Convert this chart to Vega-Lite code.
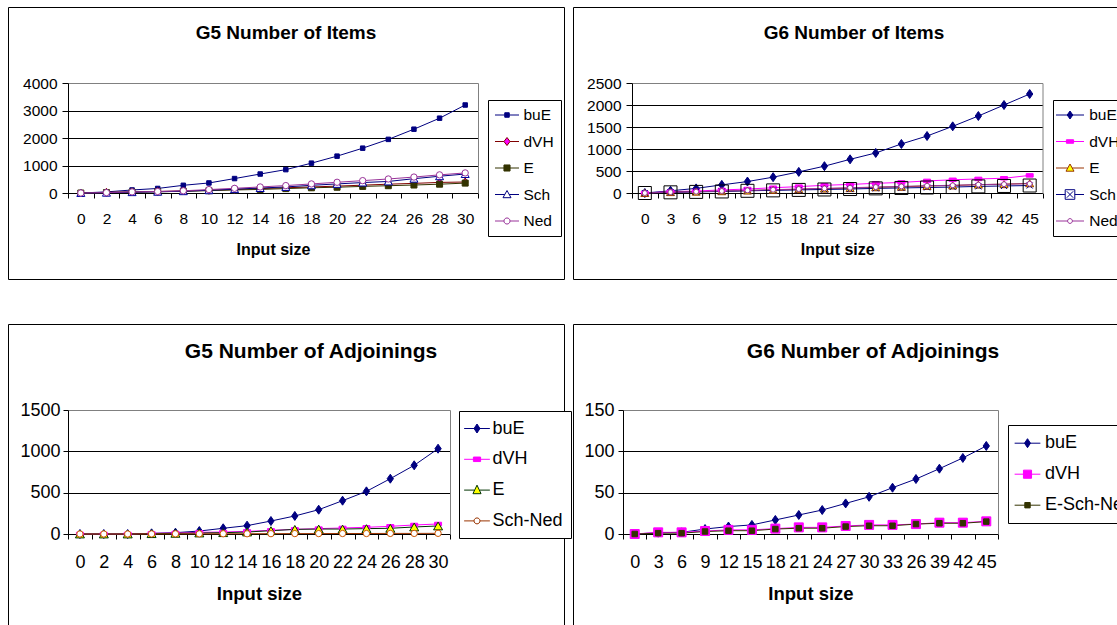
{
"$schema": "https://vega.github.io/schema/vega-lite/v6.json",
"background": "white",
"padding": {"left": 7, "top": 6, "right": 0, "bottom": 0},
"datasets": {
"tl": [
{"x":"0","s":"buE","v":0},{"x":"2","s":"buE","v":40},{"x":"4","s":"buE","v":110},{"x":"6","s":"buE","v":165},{"x":"8","s":"buE","v":280},{"x":"10","s":"buE","v":365},{"x":"12","s":"buE","v":525},{"x":"14","s":"buE","v":690},{"x":"16","s":"buE","v":850},{"x":"18","s":"buE","v":1085},{"x":"20","s":"buE","v":1340},{"x":"22","s":"buE","v":1630},{"x":"24","s":"buE","v":1950},{"x":"26","s":"buE","v":2320},{"x":"28","s":"buE","v":2720},{"x":"30","s":"buE","v":3200},
{"x":"0","s":"dVH","v":0},{"x":"2","s":"dVH","v":25},{"x":"4","s":"dVH","v":40},{"x":"6","s":"dVH","v":55},{"x":"8","s":"dVH","v":75},{"x":"10","s":"dVH","v":100},{"x":"12","s":"dVH","v":130},{"x":"14","s":"dVH","v":160},{"x":"16","s":"dVH","v":190},{"x":"18","s":"dVH","v":220},{"x":"20","s":"dVH","v":250},{"x":"22","s":"dVH","v":285},{"x":"24","s":"dVH","v":320},{"x":"26","s":"dVH","v":350},{"x":"28","s":"dVH","v":385},{"x":"30","s":"dVH","v":400},
{"x":"0","s":"E","v":0},{"x":"2","s":"E","v":15},{"x":"4","s":"E","v":30},{"x":"6","s":"E","v":45},{"x":"8","s":"E","v":60},{"x":"10","s":"E","v":85},{"x":"12","s":"E","v":110},{"x":"14","s":"E","v":130},{"x":"16","s":"E","v":160},{"x":"18","s":"E","v":190},{"x":"20","s":"E","v":210},{"x":"22","s":"E","v":240},{"x":"24","s":"E","v":265},{"x":"26","s":"E","v":290},{"x":"28","s":"E","v":320},{"x":"30","s":"E","v":360},
{"x":"0","s":"Sch","v":0},{"x":"2","s":"Sch","v":10},{"x":"4","s":"Sch","v":30},{"x":"6","s":"Sch","v":45},{"x":"8","s":"Sch","v":65},{"x":"10","s":"Sch","v":100},{"x":"12","s":"Sch","v":140},{"x":"14","s":"Sch","v":180},{"x":"16","s":"Sch","v":220},{"x":"18","s":"Sch","v":280},{"x":"20","s":"Sch","v":330},{"x":"22","s":"Sch","v":380},{"x":"24","s":"Sch","v":420},{"x":"26","s":"Sch","v":520},{"x":"28","s":"Sch","v":610},{"x":"30","s":"Sch","v":690},
{"x":"0","s":"Ned","v":0},{"x":"2","s":"Ned","v":15},{"x":"4","s":"Ned","v":40},{"x":"6","s":"Ned","v":55},{"x":"8","s":"Ned","v":80},{"x":"10","s":"Ned","v":125},{"x":"12","s":"Ned","v":170},{"x":"14","s":"Ned","v":220},{"x":"16","s":"Ned","v":270},{"x":"18","s":"Ned","v":330},{"x":"20","s":"Ned","v":390},{"x":"22","s":"Ned","v":450},{"x":"24","s":"Ned","v":510},{"x":"26","s":"Ned","v":580},{"x":"28","s":"Ned","v":660},{"x":"30","s":"Ned","v":730}
],
"tr": [
{"x":"0","s":"buE","v":0},{"x":"3","s":"buE","v":50},{"x":"6","s":"buE","v":105},{"x":"9","s":"buE","v":185},{"x":"12","s":"buE","v":260},{"x":"15","s":"buE","v":360},{"x":"18","s":"buE","v":480},{"x":"21","s":"buE","v":610},{"x":"24","s":"buE","v":765},{"x":"27","s":"buE","v":910},{"x":"30","s":"buE","v":1115},{"x":"33","s":"buE","v":1295},{"x":"26","s":"buE","v":1515},{"x":"39","s":"buE","v":1750},{"x":"42","s":"buE","v":2000},{"x":"45","s":"buE","v":2250},
{"x":"0","s":"dVH","v":0},{"x":"3","s":"dVH","v":30},{"x":"6","s":"dVH","v":45},{"x":"9","s":"dVH","v":70},{"x":"12","s":"dVH","v":90},{"x":"15","s":"dVH","v":120},{"x":"18","s":"dVH","v":145},{"x":"21","s":"dVH","v":175},{"x":"24","s":"dVH","v":195},{"x":"27","s":"dVH","v":220},{"x":"30","s":"dVH","v":240},{"x":"33","s":"dVH","v":275},{"x":"26","s":"dVH","v":300},{"x":"39","s":"dVH","v":320},{"x":"42","s":"dVH","v":335},{"x":"45","s":"dVH","v":400},
{"x":"0","s":"E","v":0},{"x":"3","s":"E","v":20},{"x":"6","s":"E","v":30},{"x":"9","s":"E","v":40},{"x":"12","s":"E","v":55},{"x":"15","s":"E","v":70},{"x":"18","s":"E","v":85},{"x":"21","s":"E","v":100},{"x":"24","s":"E","v":110},{"x":"27","s":"E","v":130},{"x":"30","s":"E","v":140},{"x":"33","s":"E","v":160},{"x":"26","s":"E","v":170},{"x":"39","s":"E","v":190},{"x":"42","s":"E","v":200},{"x":"45","s":"E","v":220},
{"x":"0","s":"Sch","v":0},{"x":"3","s":"Sch","v":15},{"x":"6","s":"Sch","v":25},{"x":"9","s":"Sch","v":35},{"x":"12","s":"Sch","v":50},{"x":"15","s":"Sch","v":60},{"x":"18","s":"Sch","v":70},{"x":"21","s":"Sch","v":80},{"x":"24","s":"Sch","v":90},{"x":"27","s":"Sch","v":105},{"x":"30","s":"Sch","v":115},{"x":"33","s":"Sch","v":125},{"x":"26","s":"Sch","v":135},{"x":"39","s":"Sch","v":150},{"x":"42","s":"Sch","v":160},{"x":"45","s":"Sch","v":170},
{"x":"0","s":"Ned","v":0},{"x":"3","s":"Ned","v":20},{"x":"6","s":"Ned","v":30},{"x":"9","s":"Ned","v":45},{"x":"12","s":"Ned","v":60},{"x":"15","s":"Ned","v":75},{"x":"18","s":"Ned","v":90},{"x":"21","s":"Ned","v":105},{"x":"24","s":"Ned","v":120},{"x":"27","s":"Ned","v":135},{"x":"30","s":"Ned","v":150},{"x":"33","s":"Ned","v":165},{"x":"26","s":"Ned","v":175},{"x":"39","s":"Ned","v":190},{"x":"42","s":"Ned","v":200},{"x":"45","s":"Ned","v":210}
],
"bl": [
{"x":"0","s":"buE","v":0},{"x":"2","s":"buE","v":0},{"x":"4","s":"buE","v":0},{"x":"6","s":"buE","v":8},{"x":"8","s":"buE","v":16},{"x":"10","s":"buE","v":36},{"x":"12","s":"buE","v":69},{"x":"14","s":"buE","v":101},{"x":"16","s":"buE","v":157},{"x":"18","s":"buE","v":218},{"x":"20","s":"buE","v":294},{"x":"22","s":"buE","v":403},{"x":"24","s":"buE","v":516},{"x":"26","s":"buE","v":669},{"x":"28","s":"buE","v":831},{"x":"30","s":"buE","v":1032},
{"x":"0","s":"dVH","v":0},{"x":"2","s":"dVH","v":0},{"x":"4","s":"dVH","v":0},{"x":"6","s":"dVH","v":8},{"x":"8","s":"dVH","v":12},{"x":"10","s":"dVH","v":20},{"x":"12","s":"dVH","v":24},{"x":"14","s":"dVH","v":32},{"x":"16","s":"dVH","v":44},{"x":"18","s":"dVH","v":56},{"x":"20","s":"dVH","v":65},{"x":"22","s":"dVH","v":73},{"x":"24","s":"dVH","v":81},{"x":"26","s":"dVH","v":93},{"x":"28","s":"dVH","v":109},{"x":"30","s":"dVH","v":121},
{"x":"0","s":"E","v":0},{"x":"2","s":"E","v":0},{"x":"4","s":"E","v":0},{"x":"6","s":"E","v":4},{"x":"8","s":"E","v":8},{"x":"10","s":"E","v":12},{"x":"12","s":"E","v":16},{"x":"14","s":"E","v":24},{"x":"16","s":"E","v":40},{"x":"18","s":"E","v":56},{"x":"20","s":"E","v":60},{"x":"22","s":"E","v":60},{"x":"24","s":"E","v":65},{"x":"26","s":"E","v":69},{"x":"28","s":"E","v":85},{"x":"30","s":"E","v":97},
{"x":"0","s":"Sch-Ned","v":0},{"x":"2","s":"Sch-Ned","v":0},{"x":"4","s":"Sch-Ned","v":0},{"x":"6","s":"Sch-Ned","v":1},{"x":"8","s":"Sch-Ned","v":2},{"x":"10","s":"Sch-Ned","v":2},{"x":"12","s":"Sch-Ned","v":3},{"x":"14","s":"Sch-Ned","v":3},{"x":"16","s":"Sch-Ned","v":4},{"x":"18","s":"Sch-Ned","v":5},{"x":"20","s":"Sch-Ned","v":5},{"x":"22","s":"Sch-Ned","v":6},{"x":"24","s":"Sch-Ned","v":6},{"x":"26","s":"Sch-Ned","v":7},{"x":"28","s":"Sch-Ned","v":7},{"x":"30","s":"Sch-Ned","v":8}
],
"br": [
{"x":"0","s":"buE","v":0},{"x":"3","s":"buE","v":1.6},{"x":"6","s":"buE","v":2},{"x":"9","s":"buE","v":6},{"x":"12","s":"buE","v":9},{"x":"15","s":"buE","v":11},{"x":"18","s":"buE","v":17},{"x":"21","s":"buE","v":23},{"x":"24","s":"buE","v":29},{"x":"27","s":"buE","v":37},{"x":"30","s":"buE","v":45},{"x":"33","s":"buE","v":56},{"x":"26","s":"buE","v":66.5},{"x":"39","s":"buE","v":79},{"x":"42","s":"buE","v":92},{"x":"45","s":"buE","v":106.5},
{"x":"0","s":"dVH","v":0},{"x":"3","s":"dVH","v":2},{"x":"6","s":"dVH","v":2},{"x":"9","s":"dVH","v":3.6},{"x":"12","s":"dVH","v":5},{"x":"15","s":"dVH","v":5},{"x":"18","s":"dVH","v":6.5},{"x":"21","s":"dVH","v":8},{"x":"24","s":"dVH","v":8},{"x":"27","s":"dVH","v":9.7},{"x":"30","s":"dVH","v":11},{"x":"33","s":"dVH","v":11},{"x":"26","s":"dVH","v":12},{"x":"39","s":"dVH","v":13.7},{"x":"42","s":"dVH","v":13.7},{"x":"45","s":"dVH","v":15.3},
{"x":"0","s":"E-Sch-Ned","v":0},{"x":"3","s":"E-Sch-Ned","v":1},{"x":"6","s":"E-Sch-Ned","v":1},{"x":"9","s":"E-Sch-Ned","v":3},{"x":"12","s":"E-Sch-Ned","v":4},{"x":"15","s":"E-Sch-Ned","v":4},{"x":"18","s":"E-Sch-Ned","v":6},{"x":"21","s":"E-Sch-Ned","v":7},{"x":"24","s":"E-Sch-Ned","v":7},{"x":"27","s":"E-Sch-Ned","v":9},{"x":"30","s":"E-Sch-Ned","v":10},{"x":"33","s":"E-Sch-Ned","v":10},{"x":"26","s":"E-Sch-Ned","v":12},{"x":"39","s":"E-Sch-Ned","v":13},{"x":"42","s":"E-Sch-Ned","v":13},{"x":"45","s":"E-Sch-Ned","v":15}
]
},
"columns": 2,
"spacing": {"row": 45, "column": 9},
"bounds": "flush",
"concat": [
{
"width": 556, "height": 272,
"data": {"name": "tl"},
"title": {"text": "G5 Number of Items", "fontSize": 19, "fontWeight": "bold", "anchor": "middle", "frame": "group", "baseline": "middle", "offset": -45},
"encoding": {
"x": {"field": "x", "type": "ordinal", "scale": {"domain": ["0","2","4","6","8","10","12","14","16","18","20","22","24","26","28","30"], "range": [60, 470], "paddingInner": 0, "paddingOuter": 0},
"axis": {"title": "Input size", "titleFontSize": 16, "titleFontWeight": "bold", "titlePadding": 15, "labelAngle": 0, "labelFontSize": 15.5, "labelPadding": 13, "labelOverlap": false, "tickBand": "extent", "tickSize": 5, "grid": false, "offset": -86}},
"y": {"field": "v", "type": "quantitative", "scale": {"domain": [0, 4000], "range": [186, 76], "nice": false, "zero": false},
"axis": {"values": [0,1000,2000,3000,4000], "format": "d", "title": null, "grid": true, "gridColor": {"condition": {"test": "datum.value === 4000", "value": "#808080"}, "value": "black"}, "tickSize": 6, "labelPadding": 5, "labelFontSize": 15.5, "offset": -60}}
},
"layer": [
{"mark": {"type": "line", "strokeWidth": 1},
"encoding": {"stroke": {"field": "s", "type": "nominal", "scale": {"domain": ["buE","dVH","E","Sch","Ned"], "range": ["#000080","#800000","#333300","#000080","#993399"]}}}},
{"mark": {"type": "point", "filled": true, "size": 0, "strokeWidth": 1, "opacity": 1},
"encoding": {
"y": {"field": "v", "type": "quantitative", "axis": {"orient": "right", "labels": false, "ticks": false, "grid": false, "domainColor": "#808080", "title": null, "offset": -86}},
"stroke": {"field": "s", "type": "nominal"},
"fill": {"field": "s", "type": "nominal", "scale": {"domain": ["buE","dVH","E","Sch","Ned"], "range": ["#000080","#FF00FF","#333300","white","white"]}},
"shape": {"field": "s", "type": "nominal", "scale": {"domain": ["buE","dVH","E","Sch","Ned"], "range": ["M-1.5,0H1.5M-0.28,-0.28H0.28V0.28H-0.28Z","M-1.5,0H-0.38M0.38,0H1.5M0,-0.5L0.38,0L0,0.5L-0.38,0Z","M-1.5,0H1.5M-0.38,-0.38H0.38V0.38H-0.38Z","M-1.5,0H-0.28M0.28,0H1.5M0,-0.5L0.5,0.4H-0.5Z","M-1.5,0H-0.38M0.38,0H1.5M-0.38,0A0.38,0.38,0,1,1,0.38,0A0.38,0.38,0,1,1,-0.38,0Z"]},
"legend": {"title": null, "orient": "none", "legendX": 480, "legendY": 93, "padding": 6.5, "rowPadding": 9.5, "strokeColor": "black", "fillColor": "white", "symbolSize": 256, "symbolStrokeWidth": 1, "symbolOpacity": 1, "labelFontSize": 15.5, "labelOffset": 8, "symbolOffset": 4}}
}},
{"transform": [{"filter": "datum.s === 'buE'"}], "mark": {"type": "point", "shape": "square", "size": 20, "filled": true, "fill": "#000080", "stroke": "#000080", "strokeWidth": 1, "opacity": 1}, "encoding": {"y": {"field": "v", "type": "quantitative", "axis": null}}},
{"transform": [{"filter": "datum.s === 'dVH'"}], "mark": {"type": "point", "shape": "M0,-1L0.7,0L0,1L-0.7,0Z", "size": 64, "filled": true, "fill": "#FF00FF", "stroke": "#800000", "strokeWidth": 1, "opacity": 1}, "encoding": {"y": {"field": "v", "type": "quantitative", "axis": null}}},
{"transform": [{"filter": "datum.s === 'E'"}], "mark": {"type": "point", "shape": "square", "size": 36, "filled": true, "fill": "#333300", "stroke": "#333300", "strokeWidth": 1, "opacity": 1}, "encoding": {"y": {"field": "v", "type": "quantitative", "axis": null}}},
{"transform": [{"filter": "datum.s === 'Sch'"}], "mark": {"type": "point", "shape": "triangle-up", "size": 64, "filled": true, "fill": "white", "stroke": "#0000A0", "strokeWidth": 1, "opacity": 1}, "encoding": {"y": {"field": "v", "type": "quantitative", "axis": null}}},
{"transform": [{"filter": "datum.s === 'Ned'"}], "mark": {"type": "point", "shape": "circle", "size": 40, "filled": true, "fill": "white", "stroke": "#993399", "strokeWidth": 1, "opacity": 1}, "encoding": {"y": {"field": "v", "type": "quantitative", "axis": null}}}
],
"resolve": {"axis": {"y": "independent"}}
},
{
"width": 562, "height": 272,
"data": {"name": "tr"},
"title": {"text": "G6 Number of Items", "fontSize": 19, "fontWeight": "bold", "anchor": "middle", "frame": "group", "baseline": "middle", "offset": -45},
"encoding": {
"x": {"field": "x", "type": "ordinal", "scale": {"domain": ["0","3","6","9","12","15","18","21","24","27","30","33","26","39","42","45"], "range": [59, 469.5], "paddingInner": 0, "paddingOuter": 0},
"axis": {"title": "Input size", "titleFontSize": 16, "titleFontWeight": "bold", "titlePadding": 15, "labelAngle": 0, "labelFontSize": 15.5, "labelPadding": 13, "labelOverlap": false, "tickBand": "extent", "tickSize": 5, "grid": false, "offset": -86}},
"y": {"field": "v", "type": "quantitative", "scale": {"domain": [0, 2500], "range": [186, 76], "nice": false, "zero": false},
"axis": {"values": [0,500,1000,1500,2000,2500], "format": "d", "title": null, "grid": true, "gridColor": {"condition": {"test": "datum.value === 2500", "value": "#808080"}, "value": "black"}, "tickSize": 6, "labelPadding": 5, "labelFontSize": 15.5, "offset": -59}}
},
"layer": [
{"mark": {"type": "line", "strokeWidth": 1},
"encoding": {"stroke": {"field": "s", "type": "nominal", "scale": {"domain": ["buE","dVH","E","Sch","Ned"], "range": ["#000080","#FF00FF","#993300","#000080","#993399"]}}}},
{"mark": {"type": "point", "filled": true, "size": 0, "strokeWidth": 1, "opacity": 1},
"encoding": {
"y": {"field": "v", "type": "quantitative", "axis": {"orient": "right", "labels": false, "ticks": false, "grid": false, "domainColor": "#808080", "title": null, "offset": -92.5}},
"stroke": {"field": "s", "type": "nominal"},
"fill": {"field": "s", "type": "nominal", "scale": {"domain": ["buE","dVH","E","Sch","Ned"], "range": ["#000080","#FF00FF","#FFFF00","white","white"]}},
"shape": {"field": "s", "type": "nominal", "scale": {"domain": ["buE","dVH","E","Sch","Ned"], "range": ["M-1.75,0H1.75M0,-0.5L0.35,0L0,0.5L-0.35,0Z","M-1.75,0H1.75M-0.45,-0.22H0.45V0.22H-0.45Z","M-1.75,0H-0.28M0.28,0H1.75M0,-0.5L0.5,0.4H-0.5Z","M-1.75,0H-0.6M0.6,0H1.75M-0.6,-0.6H0.6V0.6H-0.6ZM-0.4,-0.4L0.4,0.4M0.4,-0.4L-0.4,0.4","M-1.75,0H-0.3M0.3,0H1.75M-0.3,0A0.3,0.3,0,1,1,0.3,0A0.3,0.3,0,1,1,-0.3,0Z"]},
"legend": {"title": null, "orient": "none", "legendX": 480, "legendY": 93, "padding": 6.5, "rowPadding": 9.5, "strokeColor": "black", "fillColor": "white", "symbolSize": 256, "symbolStrokeWidth": 1, "symbolOpacity": 1, "labelFontSize": 15.5, "labelOffset": 10.7, "symbolOffset": 2}}
}},
{"transform": [{"filter": "datum.s === 'buE'"}], "mark": {"type": "point", "shape": "M0,-1L0.7,0L0,1L-0.7,0Z", "size": 81, "filled": true, "fill": "#000080", "stroke": "#000080", "strokeWidth": 1, "opacity": 1}, "encoding": {"y": {"field": "v", "type": "quantitative", "axis": null}}},
{"transform": [{"filter": "datum.s === 'dVH'"}], "mark": {"type": "point", "shape": "M-1,-0.5H1V0.5H-1Z", "size": 49, "filled": true, "fill": "#FF00FF", "stroke": "#FF00FF", "strokeWidth": 1, "opacity": 1}, "encoding": {"y": {"field": "v", "type": "quantitative", "axis": null}}},
{"transform": [{"filter": "datum.s === 'E'"}], "mark": {"type": "point", "shape": "triangle-up", "size": 64, "filled": true, "fill": "#FFFF00", "stroke": "#993300", "strokeWidth": 1, "opacity": 1}, "encoding": {"y": {"field": "v", "type": "quantitative", "axis": null}}},
{"transform": [{"filter": "datum.s === 'Sch'"}], "mark": {"type": "point", "shape": "square", "size": 169, "filled": false, "stroke": "black", "strokeWidth": 1, "opacity": 1}, "encoding": {"y": {"field": "v", "type": "quantitative", "axis": null}}},
{"transform": [{"filter": "datum.s === 'Sch'"}], "mark": {"type": "point", "shape": "M-1,-1L1,1M1,-1L-1,1", "size": 36, "filled": false, "stroke": "#000080", "strokeWidth": 1, "opacity": 1}, "encoding": {"y": {"field": "v", "type": "quantitative", "axis": null}}},
{"transform": [{"filter": "datum.s === 'Ned'"}], "mark": {"type": "point", "shape": "circle", "size": 25, "filled": true, "fill": "white", "stroke": "#993399", "strokeWidth": 1, "opacity": 1}, "encoding": {"y": {"field": "v", "type": "quantitative", "axis": null}}}
],
"resolve": {"axis": {"y": "independent"}}
},
{
"width": 556, "height": 310,
"data": {"name": "bl"},
"title": {"text": "G5 Number of Adjoinings", "fontSize": 21, "fontWeight": "bold", "anchor": "middle", "frame": "group", "baseline": "middle", "offset": -49, "dx": 25},
"encoding": {
"x": {"field": "x", "type": "ordinal", "scale": {"domain": ["0","2","4","6","8","10","12","14","16","18","20","22","24","26","28","30"], "range": [60, 442], "paddingInner": 0, "paddingOuter": 0},
"axis": {"title": "Input size", "titleFontSize": 18.5, "titleFontWeight": "bold", "titlePadding": 13, "labelAngle": 0, "labelFontSize": 18, "labelPadding": 14, "labelOverlap": false, "tickBand": "extent", "tickSize": 5, "grid": false, "offset": -100}},
"y": {"field": "v", "type": "quantitative", "scale": {"domain": [0, 1500], "range": [210, 86], "nice": false, "zero": false},
"axis": {"values": [0,500,1000,1500], "format": "d", "title": null, "grid": true, "gridColor": {"condition": {"test": "datum.value === 1500", "value": "#808080"}, "value": "black"}, "tickSize": 5, "labelPadding": 3, "labelFontSize": 18, "offset": -60}}
},
"layer": [
{"mark": {"type": "line", "strokeWidth": 1},
"encoding": {"stroke": {"field": "s", "type": "nominal", "scale": {"domain": ["buE","dVH","E","Sch-Ned"], "range": ["#000080","#FF00FF","#003300","#993300"]}}}},
{"mark": {"type": "point", "filled": true, "size": 0, "strokeWidth": 1, "opacity": 1},
"encoding": {
"y": {"field": "v", "type": "quantitative", "axis": {"orient": "right", "labels": false, "ticks": false, "grid": false, "domainColor": "#808080", "title": null, "offset": -114}},
"stroke": {"field": "s", "type": "nominal"},
"fill": {"field": "s", "type": "nominal", "scale": {"domain": ["buE","dVH","E","Sch-Ned"], "range": ["#000080","#FF00FF","#FFFF00","white"]}},
"shape": {"field": "s", "type": "nominal", "scale": {"domain": ["buE","dVH","E","Sch-Ned"], "range": ["M-1.43,0H1.43M0,-0.5L0.33,0L0,0.5L-0.33,0Z","M-1.43,0H1.43M-0.4,-0.25H0.4V0.25H-0.4Z","M-1.43,0H-0.3M0.3,0H1.43M0,-0.55L0.45,0.4H-0.45Z","M-1.43,0H-0.33M0.33,0H1.43M-0.33,0A0.33,0.33,0,1,1,0.33,0A0.33,0.33,0,1,1,-0.33,0Z"]},
"legend": {"title": null, "orient": "none", "legendX": 451, "legendY": 87, "padding": 8, "rowPadding": 11.8, "strokeColor": "black", "fillColor": "white", "symbolSize": 324, "symbolStrokeWidth": 1, "symbolOpacity": 1, "labelFontSize": 18, "labelOffset": 6, "symbolOffset": 0.5, "labelLimit": 200}}
}},
{"transform": [{"filter": "datum.s === 'buE'"}], "mark": {"type": "point", "shape": "M0,-1L0.7,0L0,1L-0.7,0Z", "size": 81, "filled": true, "fill": "#000080", "stroke": "#000080", "strokeWidth": 1, "opacity": 1}, "encoding": {"y": {"field": "v", "type": "quantitative", "axis": null}}},
{"transform": [{"filter": "datum.s === 'dVH'"}], "mark": {"type": "point", "shape": "M-1,-0.5H1V0.5H-1Z", "size": 49, "filled": true, "fill": "#FF00FF", "stroke": "#FF00FF", "strokeWidth": 1, "opacity": 1}, "encoding": {"y": {"field": "v", "type": "quantitative", "axis": null}}},
{"transform": [{"filter": "datum.s === 'E'"}], "mark": {"type": "point", "shape": "triangle-up", "size": 81, "filled": true, "fill": "#FFFF00", "stroke": "#003300", "strokeWidth": 1, "opacity": 1}, "encoding": {"y": {"field": "v", "type": "quantitative", "axis": null}}},
{"transform": [{"filter": "datum.s === 'Sch-Ned'"}], "mark": {"type": "point", "shape": "circle", "size": 40, "filled": true, "fill": "white", "stroke": "#CC5500", "strokeWidth": 1, "opacity": 1}, "encoding": {"y": {"field": "v", "type": "quantitative", "axis": null}}}
],
"resolve": {"axis": {"y": "independent"}}
},
{
"width": 600, "height": 310,
"data": {"name": "br"},
"title": {"text": "G6 Number of Adjoinings", "fontSize": 21, "fontWeight": "bold", "anchor": "middle", "frame": "group", "baseline": "middle", "offset": -49},
"encoding": {
"x": {"field": "x", "type": "ordinal", "scale": {"domain": ["0","3","6","9","12","15","18","21","24","27","30","33","26","39","42","45"], "range": [50, 425], "paddingInner": 0, "paddingOuter": 0},
"axis": {"title": "Input size", "titleFontSize": 18.5, "titleFontWeight": "bold", "titlePadding": 13, "labelAngle": 0, "labelFontSize": 18, "labelPadding": 14, "labelOverlap": false, "tickBand": "extent", "tickSize": 5, "grid": false, "offset": -100}},
"y": {"field": "v", "type": "quantitative", "scale": {"domain": [0, 150], "range": [210, 86], "nice": false, "zero": false},
"axis": {"values": [0,50,100,150], "format": "d", "title": null, "grid": true, "gridColor": {"condition": {"test": "datum.value === 150", "value": "#808080"}, "value": "black"}, "tickSize": 5, "labelPadding": 4, "labelFontSize": 18, "offset": -50}}
},
"layer": [
{"mark": {"type": "line", "strokeWidth": 1},
"encoding": {"stroke": {"field": "s", "type": "nominal", "scale": {"domain": ["buE","dVH","E-Sch-Ned"], "range": ["#000080","#FF00FF","#333300"]}}}},
{"mark": {"type": "point", "filled": true, "size": 0, "strokeWidth": 1, "opacity": 1},
"encoding": {
"y": {"field": "v", "type": "quantitative", "axis": {"orient": "right", "labels": false, "ticks": false, "grid": false, "domainColor": "#808080", "title": null, "offset": -175}},
"stroke": {"field": "s", "type": "nominal"},
"fill": {"field": "s", "type": "nominal", "scale": {"domain": ["buE","dVH","E-Sch-Ned"], "range": ["#000080","#FF00FF","#333300"]}},
"shape": {"field": "s", "type": "nominal", "scale": {"domain": ["buE","dVH","E-Sch-Ned"], "range": ["M-1.43,0H1.43M0,-0.5L0.33,0L0,0.5L-0.33,0Z","M-1.43,0H1.43M-0.45,-0.45H0.45V0.45H-0.45Z","M-1.43,0H1.43M-0.3,-0.3H0.3V0.3H-0.3Z"]},
"legend": {"title": null, "orient": "none", "legendX": 435, "legendY": 101, "padding": 8.7, "rowPadding": 12, "strokeColor": "black", "fillColor": "white", "symbolSize": 324, "symbolStrokeWidth": 1, "symbolOpacity": 1, "labelFontSize": 18, "labelOffset": 8, "symbolOffset": 1.3}}
}},
{"transform": [{"filter": "datum.s === 'buE'"}], "mark": {"type": "point", "shape": "M0,-1L0.7,0L0,1L-0.7,0Z", "size": 81, "filled": true, "fill": "#000080", "stroke": "#000080", "strokeWidth": 1, "opacity": 1}, "encoding": {"y": {"field": "v", "type": "quantitative", "axis": null}}},
{"transform": [{"filter": "datum.s === 'dVH'"}], "mark": {"type": "point", "shape": "square", "size": 81, "filled": true, "fill": "#FF00FF", "stroke": "#FF00FF", "strokeWidth": 1, "opacity": 1}, "encoding": {"y": {"field": "v", "type": "quantitative", "axis": null}}},
{"transform": [{"filter": "datum.s === 'E-Sch-Ned'"}], "mark": {"type": "point", "shape": "square", "size": 30, "filled": true, "fill": "#333300", "stroke": "#333300", "strokeWidth": 1, "opacity": 1}, "encoding": {"y": {"field": "v", "type": "quantitative", "axis": null}}}
],
"resolve": {"axis": {"y": "independent"}}
}
],
"resolve": {"scale": {"stroke": "independent", "fill": "independent", "shape": "independent", "size": "independent"}, "legend": {"stroke": "independent", "fill": "independent", "shape": "independent", "size": "independent"}},
"config": {
"view": {"stroke": "black", "strokeWidth": 1},
"font": "Liberation Sans",
"axis": {"labelFont": "Liberation Sans", "titleFont": "Liberation Sans", "labelColor": "black", "titleColor": "black", "domainColor": "black", "tickColor": "black"},
"legend": {"labelFont": "Liberation Sans", "labelColor": "black"},
"title": {"font": "Liberation Sans", "color": "black"}
}
}
